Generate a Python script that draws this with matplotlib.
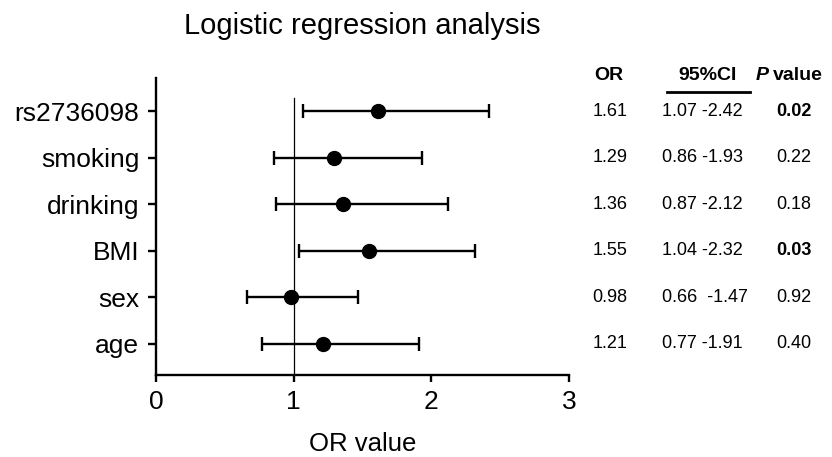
import matplotlib
matplotlib.use("Agg")
import matplotlib.pyplot as plt
from matplotlib.transforms import blended_transform_factory

plt.rcParams['font.family'] = ['Liberation Sans', 'DejaVu Sans']

categories = ["rs2736098", "smoking", "drinking", "BMI", "sex", "age"]
or_values = [1.61, 1.29, 1.36, 1.55, 0.98, 1.21]
ci_low = [1.07, 0.86, 0.87, 1.04, 0.66, 0.77]
ci_high = [2.42, 1.93, 2.12, 2.32, 1.47, 1.91]
or_labels = ["1.61", "1.29", "1.36", "1.55", "0.98", "1.21"]
ci_labels = ["1.07 -2.42", "0.86 -1.93", "0.87 -2.12", "1.04 -2.32", "0.66  -1.47", "0.77 -1.91"]
p_labels = ["0.02", "0.22", "0.18", "0.03", "0.92", "0.40"]
p_bold = [True, False, False, True, False, False]
x_ticks = [0, 1, 2, 3]

fig = plt.figure(figsize=(8.32, 4.57), dpi=100)
ax = fig.add_axes([156/832, 1-375/457, (569-156)/832, (375-78)/457])

n = len(categories)
ypos = [n - 1 - i for i in range(n)]
xerr = [[o - l for o, l in zip(or_values, ci_low)], [h - o for o, h in zip(or_values, ci_high)]]
ax.errorbar(or_values, ypos, xerr=xerr, fmt='o', color='black', ecolor='black',
            markersize=10, elinewidth=1.7, capsize=5, capthick=1.7, zorder=3)

ax.set_xlim(0, 3)
ax.set_ylim(-0.67, 5.71)
ax.axvline(1, ymin=0, ymax=(5.28 + 0.67) / (5.71 + 0.67), color='black', linewidth=0.9, zorder=1)

ax.set_yticks(ypos)
ax.set_yticklabels(categories, fontsize=19)
ax.set_xticks(x_ticks)
ax.set_xticklabels([str(t) for t in x_ticks], fontsize=19)
ax.set_xlabel("OR value", fontsize=18.5, labelpad=13)

for s in ['top', 'right']:
    ax.spines[s].set_visible(False)
for s in ['left', 'bottom']:
    ax.spines[s].set_linewidth(1.7)
ax.tick_params(axis='y', direction='out', length=6, width=1.7, pad=6)
ax.tick_params(axis='x', direction='out', length=5, width=1.7, pad=6)

fig.text(362/832, 1-26/457, "Logistic regression analysis", fontsize=21, ha='center', va='center')

tr = blended_transform_factory(fig.transFigure, ax.transData)
hy = 5.0 + (111 - 75) / 46.6
ax.text(609/832, hy, "OR", transform=tr, fontsize=14, fontweight='bold', ha='center', va='center', clip_on=False)
ax.text(708/832, hy, "95%CI", transform=tr, fontsize=14, fontweight='bold', ha='center', va='center', clip_on=False)
ax.text(769/832, hy, "P", transform=tr, fontsize=14, fontweight='bold', fontstyle='italic', ha='right', va='center', clip_on=False)
ax.text(773/832, hy, "value", transform=tr, fontsize=14, fontweight='bold', ha='left', va='center', clip_on=False)
uy = 5.0 + (111 - 92) / 46.6
ax.plot([667/832, 750/832], [uy, uy], transform=tr, color='black', linewidth=2.0, clip_on=False)

for i in range(n):
    y = ypos[i]
    ax.text(610/832, y, or_labels[i], transform=tr, fontsize=13, ha='center', va='center', clip_on=False)
    ax.text(662/832, y, ci_labels[i], transform=tr, fontsize=13, ha='left', va='center', clip_on=False)
    ax.text(794/832, y, p_labels[i], transform=tr, fontsize=13, ha='center', va='center',
            fontweight='bold' if p_bold[i] else 'normal', clip_on=False)

fig.savefig("out.png", dpi=100)
